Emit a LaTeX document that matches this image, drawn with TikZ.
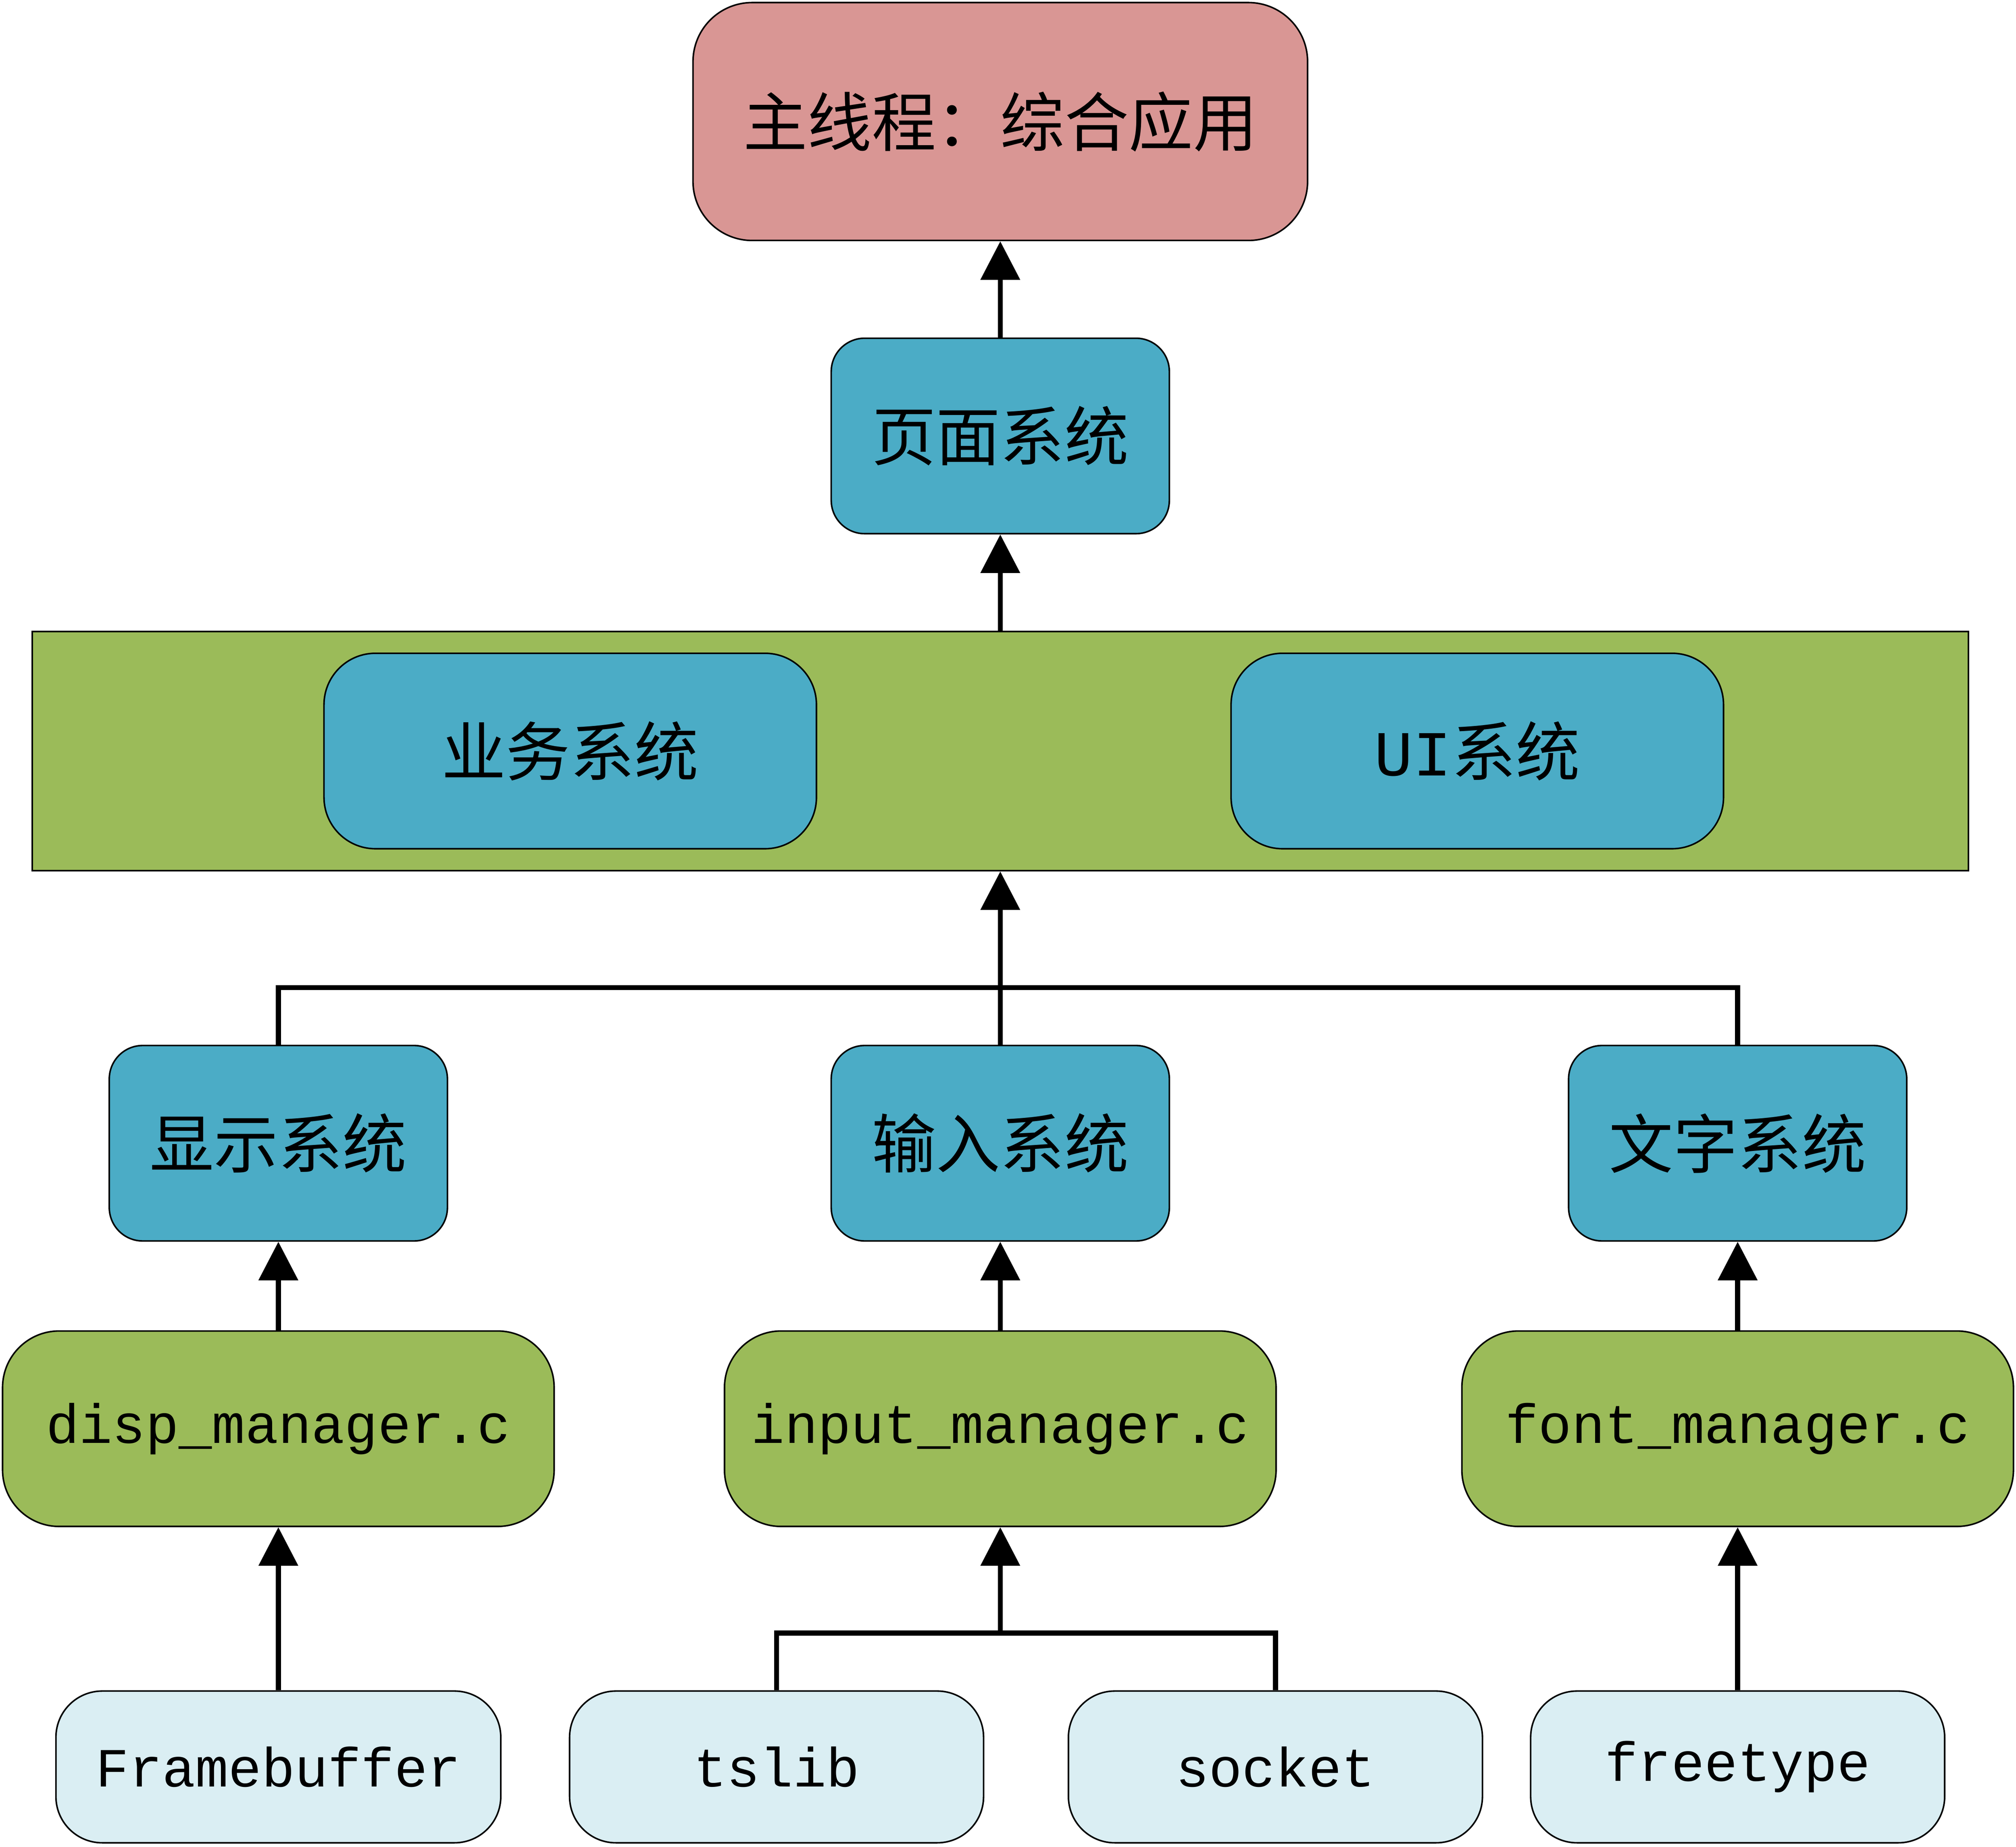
\documentclass[tikz,border=0pt]{standalone}
\usepackage{fontspec}
\setmainfont{Liberation Mono}
\newfontfamily\cjk{Noto Sans CJK SC}
\usetikzlibrary{arrows.meta}
\definecolor{cred}{HTML}{D99694}
\definecolor{cblue}{HTML}{4BACC6}
\definecolor{cgreen}{HTML}{9BBB59}
\definecolor{clight}{HTML}{DAEEF3}
\begin{document}
\begin{tikzpicture}[x=0.5pt,y=-0.5pt,
  box/.style={draw=black,line width=0.6pt,inner sep=0pt,text=black},
  sysbox/.style={box,fill=cblue,rounded corners=13pt,minimum width=131.5pt,minimum height=76pt,font=\cjk\fontsize{25pt}{30pt}\selectfont},
  mgrbox/.style={box,fill=cgreen,rounded corners=22pt,minimum width=214.5pt,minimum height=76pt,font=\fontsize{21.5pt}{26pt}\selectfont},
  libbox/.style={box,fill=clight,rounded corners=18pt,minimum width=161pt,minimum height=59pt,font=\fontsize{21.5pt}{26pt}\selectfont},
  bigbox/.style={box,fill=cblue,rounded corners=20pt,minimum width=191.5pt,minimum height=76pt,font=\cjk\fontsize{25pt}{30pt}\selectfont},
  conn/.style={line width=2pt,draw=black},
  arr/.style={conn,-{Triangle[width=15pt,length=15pt]}}]
\useasboundingbox (0,0) rectangle (1568,1436);
% top
\node[box,fill=cred,rounded corners=23pt,minimum width=239pt,minimum height=92.5pt,font=\cjk\fontsize{25pt}{30pt}\selectfont] (main) at (778,94.5) {主线程：综合应用};
\node[sysbox] (yemian) at (778,339) {页面系统};
% band
\node[box,fill=cgreen,minimum width=753pt,minimum height=93pt] (band) at (778,584) {};
\node[bigbox] (yewu) at (443.5,584) {业务系统};
\node[bigbox] (ui) at (1149,584) {{\fontspec{Liberation Mono}UI}系统};
% systems
\node[sysbox] (xianshi) at (216.5,889) {显示系统};
\node[sysbox] (shuru) at (778,889) {输入系统};
\node[sysbox] (wenzi) at (1351.5,889) {文字系统};
% managers
\node[mgrbox] (dispm) at (216.5,1111) {disp\_manager.c};
\node[mgrbox] (inputm) at (778,1111) {input\_manager.c};
\node[mgrbox] (fontm) at (1351.5,1111) {font\_manager.c};
% libs
\node[libbox,minimum width=173pt] (fb) at (216.5,1374) {Framebuffer};
\node[libbox] (tslib) at (604,1374) {tslib};
\node[libbox] (socket) at (992,1374) {socket};
\node[libbox] (freetype) at (1351.5,1374) {freetype};
% connectors
\draw[arr] (yemian.north) -- (main.south);
\draw[arr] (band.north) -- (yemian.south);
\coordinate (bus) at (778,768);
\draw[conn] (xianshi.north) |- (bus) -| (wenzi.north);
\draw[conn] (shuru.north) -- (bus);
\draw[arr] (bus) -- (band.south);
\draw[arr] (dispm.north) -- (xianshi.south);
\draw[arr] (inputm.north) -- (shuru.south);
\draw[arr] (fontm.north) -- (wenzi.south);
\draw[arr] (fb.north) -- (dispm.south);
\draw[arr] (freetype.north) -- (fontm.south);
\coordinate (bus2) at (778,1270);
\draw[conn] (tslib.north) |- (bus2) -| (socket.north);
\draw[arr] (bus2) -- (inputm.south);
\end{tikzpicture}
\end{document}
